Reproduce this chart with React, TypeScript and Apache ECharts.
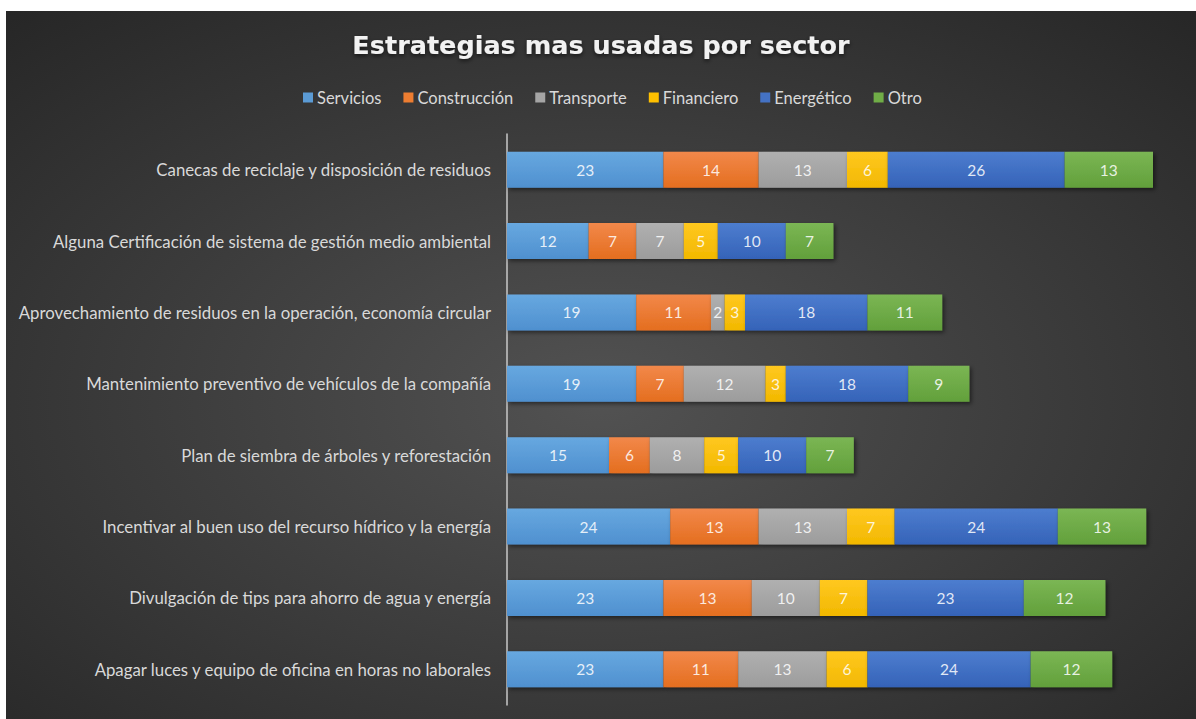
import React, { useEffect, useRef } from "react";
import * as echarts from "echarts";

const categories = [
  "Canecas de reciclaje y disposición de residuos",
  "Alguna Certificación de sistema de gestión medio ambiental",
  "Aprovechamiento de residuos en la operación, economía circular",
  "Mantenimiento preventivo de vehículos de la compañía",
  "Plan de siembra de árboles y reforestación",
  "Incentivar al buen uso del recurso hídrico y la energía",
  "Divulgación de tips para ahorro de agua y energía",
  "Apagar luces y equipo de oficina en horas no laborales",
];

const seriesNames = ["Servicios", "Construcción", "Transporte", "Financiero", "Energético", "Otro"];
const servicios = [23, 12, 19, 19, 15, 24, 23, 23];
const construccion = [14, 7, 11, 7, 6, 13, 13, 11];
const transporte = [13, 7, 2, 12, 8, 13, 10, 13];
const financiero = [6, 5, 3, 3, 5, 7, 7, 6];
const energetico = [26, 10, 18, 18, 10, 24, 23, 24];
const otro = [13, 7, 11, 9, 7, 13, 12, 12];

const seriesValues = [servicios, construccion, transporte, financiero, energetico, otro];
const colors = [
  ["#67a8e0", "#4f90cf"],
  ["#f2884a", "#e46e1f"],
  ["#b0b0b0", "#9c9c9c"],
  ["#ffc820", "#f2b800"],
  ["#4d7dcf", "#3563b8"],
  ["#7bb654", "#62a03b"],
];
const legendColors = ["#5B9BD5", "#ED7D31", "#A5A5A5", "#FFC000", "#4472C4", "#70AD47"];

export default function App() {
  const ref = useRef<HTMLDivElement>(null);
  useEffect(() => {
    if (!ref.current) return;
    const chart = echarts.init(ref.current, undefined, { renderer: "svg" });
    chart.setOption({
      animation: false,
      backgroundColor: {
        type: "radial",
        x: 0.5,
        y: 0.55,
        r: 0.75,
        colorStops: [
          { offset: 0, color: "#525252" },
          { offset: 1, color: "#262626" },
        ],
      },
      title: {
        text: "Estrategias mas usadas por sector",
        left: "center",
        top: 16,
        textStyle: {
          color: "#f2f2f2",
          fontSize: 25.5,
          fontWeight: "bold",
          fontFamily: "DejaVu Sans",
          textShadowColor: "rgba(0,0,0,0.6)",
          textShadowBlur: 4,
          textShadowOffsetY: 2,
        },
      },
      legend: {
        top: 73,
        left: 292,
        icon: "rect",
        itemWidth: 10,
        itemHeight: 10,
        itemGap: 22,
        textStyle: { color: "#d9d9d9", fontSize: 16.5, fontFamily: "Lato", padding: [0, 0, 0, -1] },
        data: seriesNames.map((n, i) => ({ name: n, itemStyle: { color: legendColors[i] } })),
      },
      grid: { left: 501, top: 123, width: 680, height: 571, containLabel: false },
      xAxis: { type: "value", min: 0, max: 100, show: false },
      yAxis: {
        type: "category",
        inverse: true,
        data: categories,
        axisLine: { show: true, lineStyle: { color: "#c8c8c8", width: 1.5 } },
        axisTick: { show: false },
        axisLabel: { color: "#d9d9d9", fontSize: 16.8, fontFamily: "Lato", margin: 16 },
      },
      series: seriesNames.map((name, i) => ({
        name,
        type: "bar",
        stack: "total",
        barWidth: 36,
        data: seriesValues[i],
        itemStyle: {
          color: new echarts.graphic.LinearGradient(0, 0, 0, 1, [
            { offset: 0, color: colors[i][0] },
            { offset: 1, color: colors[i][1] },
          ]),
          shadowColor: "rgba(0,0,0,0.5)",
          shadowBlur: 4,
          shadowOffsetX: 2,
          shadowOffsetY: 2,
        },
        label: {
          show: true,
          position: "inside",
          color: "rgba(255,255,255,0.85)",
          fontSize: 15.5,
          fontFamily: "Lato",
        },
      })),
    });
    return () => chart.dispose();
  }, []);
  return (
    <div
      ref={ref}
      style={{ position: "absolute", left: 6, top: 11, width: 1190, height: 708 }}
    />
  );
}
